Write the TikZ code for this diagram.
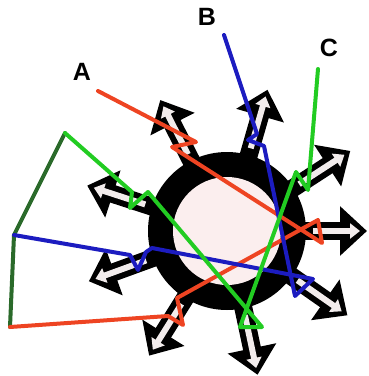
\documentclass[tikz,border=0pt]{standalone}
\usepackage{fontspec}
\setmainfont{Liberation Sans}
\usetikzlibrary{arrows.meta,calc}
\definecolor{rayred}{HTML}{EE4422}
\definecolor{rayblue}{HTML}{1C1CC0}
\definecolor{raygreen}{HTML}{22CC22}
\definecolor{darkgreen}{HTML}{2A6A2A}
\definecolor{diskfill}{HTML}{FBEEEE}
\definecolor{shaftwhite}{HTML}{F2ECEC}
\begin{document}
\begin{tikzpicture}[x=1pt,y=-1pt,
  outarrow/.style={line width=18pt,-{Triangle[width=48pt,length=27pt]}},
  innerarrow/.style={shaftwhite,line width=6pt,-{Triangle[width=15pt,length=10pt]}},
  ray/.style={line width=4pt,line join=round,line cap=round},
  lbl/.style={font=\bfseries\fontsize{25}{25}\selectfont,inner sep=0pt}]
\useasboundingbox (0,0) rectangle (368,376);
\coordinate (c) at (227,231);
\fill[black] (c) circle[radius=79pt];
\foreach \a/\r/\t in {-162/147/140,-117/147/140,-74/147/140,-33/147/140,0/140/133,35/147/140,78/147/140,122/147/140,160/147/140}{
  \draw[outarrow] ($(c)+(\a:70)$) -- ($(c)+(\a:\r)$);
  \draw[innerarrow] ($(c)+(\a:86)$) -- ($(c)+(\a:\t)$);
}
\fill[diskfill] (c) circle[radius=54pt];
% labels
\node[lbl] (A) at (82,72) {A};
\node[lbl] (B) at (207,17) {B};
\node[lbl] (C) at (329,48) {C};
% ray start points
\coordinate (a0) at (98,91);
\coordinate (b0) at (224,35);
\coordinate (c0) at (318,69);
\coordinate (pg) at (65,133);
\coordinate (pb) at (14,235);
\coordinate (pr) at (10,327);
% rays
\draw[ray,darkgreen] (pg) -- (pb) -- (pr);
\draw[ray,rayred] (a0) -- (196,142) -- (172,147) -- (322,243) -- (318,220) -- (177,298) -- (183,325) -- (168,316) -- (pr);
\draw[ray,rayblue] (b0) -- (257,134) -- (248,140) -- (264,146) -- (295,296) -- (313,279) -- (152,248) -- (146,252) -- (138,270) -- (130,255) -- (pb);
\draw[ray,raygreen] (c0) -- (308,190) -- (296,172) -- (240,327) -- (262,327) -- (148,192) -- (130,208) -- (132,192) -- (pg);
\end{tikzpicture}
\end{document}
